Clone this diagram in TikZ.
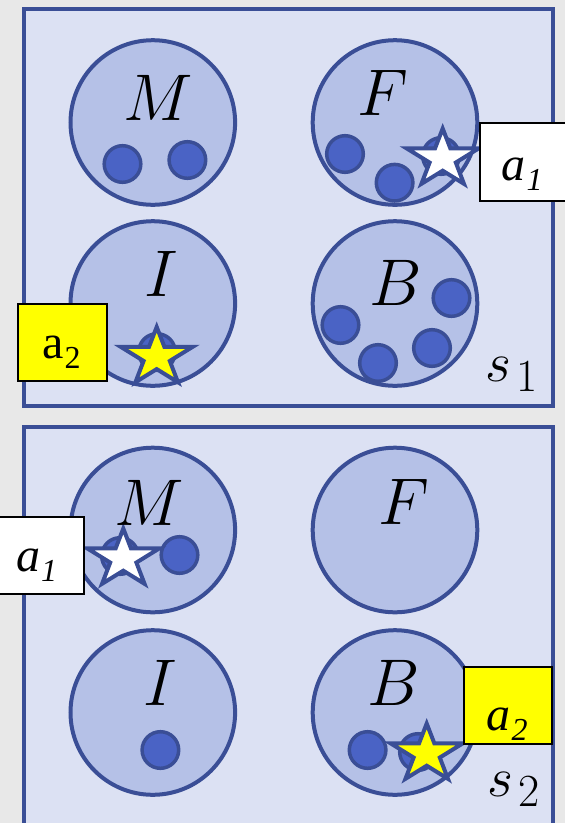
\RequirePackage{fix-cm}
\documentclass[tikz,border=0pt]{standalone}
\usepackage{fontspec}
\newfontfamily\lserif{Liberation Serif}
\definecolor{bgc}{HTML}{E8E8E8}
\definecolor{panelfill}{HTML}{DCE1F3}
\definecolor{roomfill}{HTML}{B5C1E7}
\definecolor{ballfill}{HTML}{4A63C5}
\definecolor{edgeblue}{HTML}{3A4E96}
\definecolor{tagyellow}{HTML}{FFFF00}
\newcommand\lsub[1]{\kern1pt\raisebox{-10pt}{\fontsize{32}{32}\selectfont #1}}
\newcommand\ssub[1]{\kern5pt\raisebox{-10pt}{\fontsize{46}{46}\selectfont\upshape #1}}
\begin{document}
\begin{tikzpicture}[x=1pt,y=-1pt,
  panel/.style={draw=edgeblue,line width=4pt,fill=panelfill},
  room/.style={circle,draw=edgeblue,line width=4pt,fill=roomfill,minimum size=164.6,inner sep=0pt},
  ball/.style={circle,draw=edgeblue,line width=3.5pt,fill=ballfill,minimum size=36.6,inner sep=0pt},
  letter/.style={anchor=base,inner sep=0pt,font=\fontsize{66}{72}\selectfont},
  slabel/.style={anchor=base west,inner sep=0pt,font=\fontsize{56}{64}\selectfont},
  tagbox/.style={draw=black,line width=2pt,anchor=north west,inner sep=0pt},
  tagtext/.style={anchor=base,inner sep=0pt,font=\lserif\fontsize{48}{52}\selectfont},
  pics/astar/.style={code={
    \draw[draw=edgeblue,line width=4pt,line join=miter,fill=#1]
      (0,-29.75) -- (7.65,-9.95) -- (36.1,-9.95) -- (13.1,4.25) -- (21.25,25.5)
      -- (0,12.4) -- (-21.25,25.5) -- (-13.1,4.25) -- (-36.1,-9.95) -- (-7.65,-9.95) -- cycle;
  }}
]
\clip (0,0) rectangle (565,823);
\fill[bgc] (0,0) rectangle (565,823);

% ---------- top panel s1 ----------
\draw[panel] (24,8.7) rectangle (553,406.3);
\node[room] (M1) at (152.8,122.5) {};
\node[room] (F1) at (395,122.5) {};
\node[room] (I1) at (152.8,303.5) {};
\node[room] (B1) at (395,303.5) {};

\node[ball] (m1a) at (122.5,164) {};
\node[ball] (m1b) at (187.4,160) {};
\node[ball] (f1a) at (345,154) {};
\node[ball] (f1b) at (394.6,182.7) {};
\node[ball] (f1c) at (441,156) {};
\node[ball] (i1a) at (157,352) {};
\node[ball] (b1a) at (451.5,298) {};
\node[ball] (b1b) at (340.5,325) {};
\node[ball] (b1c) at (378,363) {};
\node[ball] (b1d) at (432,348) {};

\pic at (442.7,158.3) {astar=white};
\pic at (156.7,356.7) {astar=tagyellow};

\node[letter] (M1l) at (158,120) {$M$};
\node[letter] (F1l) at (383,115) {$F$};
\node[letter] (I1l) at (161,296) {$I$};
\node[letter] (B1l) at (396,305) {$B$};
\node[slabel] (s1) at (485,381.7) {$s$\ssub{1}};

\node[tagbox,fill=white,minimum width=91.4,minimum height=78] (a1top) at (478.6,122) {};
\node[tagtext] (a1toptxt) at (522,180) {\itshape a\lsub{1}};
\node[tagbox,fill=tagyellow,minimum width=89,minimum height=77] (a2top) at (17,303) {};
\node[tagtext] (a2toptxt) at (61.5,358.3) {a\lsub{2}};

% ---------- bottom panel s2 ----------
\draw[panel] (24,427) rectangle (553,845);
\node[room] (M2) at (152.8,530) {};
\node[room] (F2) at (395,530) {};
\node[room] (I2) at (152.8,712.5) {};
\node[room] (B2) at (395,712.5) {};

\node[ball] (m2a) at (120,556) {};
\node[ball] (m2b) at (179.5,555) {};
\node[ball] (i2a) at (160.4,750) {};
\node[ball] (b2a) at (367.6,750) {};
\node[ball] (b2b) at (418,752) {};

\pic at (123.3,558.3) {astar=white};
\pic at (426.7,753.3) {astar=tagyellow};

\node[letter] (M2l) at (149.5,525) {$M$};
\node[letter] (F2l) at (403.6,524) {$F$};
\node[letter] (I2l) at (160.7,705) {$I$};
\node[letter] (B2l) at (393.7,705) {$B$};
\node[slabel] (s2) at (487,796.7) {$s$\ssub{2}};

\node[tagbox,fill=white,minimum width=90,minimum height=77] (a1bot) at (-7,516) {};
\node[tagtext] (a1bottxt) at (36.7,571.7) {\itshape a\lsub{1}};
\node[tagbox,fill=tagyellow,minimum width=88,minimum height=77] (a2bot) at (463,666) {};
\node[tagtext] (a2bottxt) at (507,730) {\itshape a\lsub{2}};
\end{tikzpicture}
\end{document}
